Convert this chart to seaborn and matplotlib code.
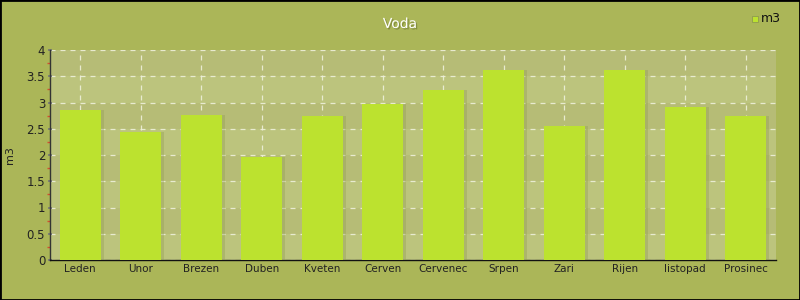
import matplotlib
matplotlib.use("Agg")
import matplotlib.pyplot as plt
import matplotlib.patheffects as pe
from matplotlib.patches import Rectangle
import seaborn as sns
import pandas as pd
import numpy as np

months = ["Leden", "Unor", "Brezen", "Duben", "Kveten", "Cerven", "Cervenec",
          "Srpen", "Zari", "Rijen", "listopad", "Prosinec"]
values = [2.86, 2.44, 2.76, 1.96, 2.74, 2.97, 3.24, 3.62, 2.55, 3.61, 2.92, 2.74]
yticks = [0, 0.5, 1, 1.5, 2, 2.5, 3, 3.5, 4]
ytick_labels = ["0", "0.5", "1", "1.5", "2", "2.5", "3", "3.5", "4"]

df = pd.DataFrame({"month": months, "m3": values})

sns.set_theme(style="white")
plt.rcParams['font.family'] = ['DejaVu Sans']

fig = plt.figure(figsize=(8, 3), dpi=100)
fig.patch.set_facecolor("#abb658")
ax = fig.add_axes([50/800, 40/300, 726/800, 210/300])
ax.set_facecolor("#bcc47d")

# alternating bands
for i, lo in enumerate(np.arange(0, 4, 0.5)):
    if i % 2 == 1:
        ax.axhspan(lo, lo + 0.5, color="#b6bc76", zorder=0, lw=0)

bar_color = "#bce22f"
sns.barplot(data=df, x="month", y="m3", color=bar_color, width=0.68,
            saturation=1, ax=ax, zorder=3, edgecolor="none")
for p in ax.patches:
    if hasattr(p, "get_width") and p.get_width() < 1:
        p.set_path_effects([pe.SimplePatchShadow(offset=(2, 0), shadow_rgbFace="#8f9a4e", alpha=0.35), pe.Normal()])

ax.set_xlim(-0.5, len(months) - 0.5)
ax.set_ylim(0, 4)
ax.set_yticks(yticks)
ax.set_yticklabels(ytick_labels)
ax.set_yticks(np.arange(0.25, 4, 0.5), minor=True)
ax.grid(True, which="major", axis="both", color="#eef0da", linestyle=(0, (4, 4)), lw=0.9, alpha=0.9, zorder=1)
ax.set_axisbelow(True)

ax.tick_params(axis="y", which="major", length=3, color="#777777", direction="inout",
               labelsize=8.5, labelcolor="#222222", pad=2, left=True)
ax.tick_params(axis="y", which="minor", length=2, color="#d05030", direction="out", left=True)
ax.tick_params(axis="x", which="major", length=2, color="#777777", direction="in",
               labelsize=7.5, labelcolor="#222222", pad=3, bottom=True)

for s in ["top", "right"]:
    ax.spines[s].set_visible(False)
ax.spines["left"].set_color("#333333")
ax.spines["bottom"].set_color("#111111")
ax.spines["left"].set_linewidth(1)
ax.spines["bottom"].set_linewidth(1)

ax.set_xlabel("")
ax.set_ylabel("m3", fontsize=8, color="#222222", labelpad=8)

fig.text(0.5, 1 - 24/300, "Voda", ha="center", va="center", fontsize=10, color="white",
         path_effects=[pe.withSimplePatchShadow(offset=(1, -1), shadow_rgbFace="#6b7430", alpha=0.6)])

# legend
fig.patches.append(Rectangle((752/800, 1 - 22/300), 6/800, 6/300, transform=fig.transFigure,
                             facecolor=bar_color, edgecolor="#8f9a4e", lw=0.6, zorder=5))
fig.text(761/800, 1 - 18/300, "m3", ha="left", va="center", fontsize=9, color="#111111")

# border
fig.patches.append(Rectangle((0, 0), 1, 1, transform=fig.transFigure, fill=False,
                             edgecolor="black", lw=2))

fig.savefig("out.png", dpi=100, facecolor=fig.get_facecolor())
